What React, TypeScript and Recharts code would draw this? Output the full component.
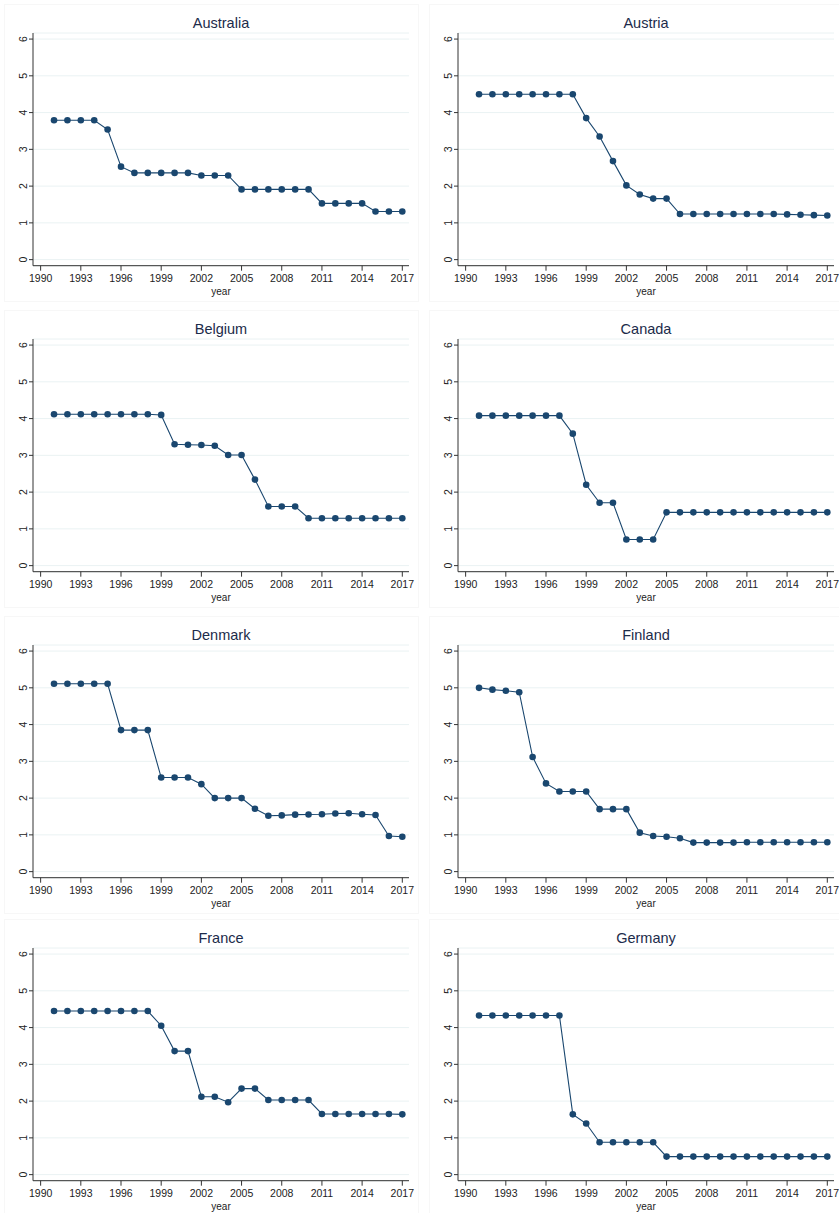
import { LineChart, Line, XAxis, YAxis, CartesianGrid } from "recharts";

const years = [
  1991, 1992, 1993, 1994, 1995, 1996, 1997, 1998, 1999, 2000, 2001, 2002, 2003, 2004,
  2005, 2006, 2007, 2008, 2009, 2010, 2011, 2012, 2013, 2014, 2015, 2016, 2017,
];

const australia = [
  3.79, 3.79, 3.79, 3.79, 3.54, 2.53, 2.36, 2.36, 2.36, 2.36, 2.36, 2.29, 2.29, 2.29,
  1.91, 1.91, 1.91, 1.91, 1.91, 1.91, 1.53, 1.53, 1.53, 1.53, 1.31, 1.31, 1.31,
];
const austria = [
  4.5, 4.5, 4.5, 4.5, 4.5, 4.5, 4.5, 4.5, 3.85, 3.35, 2.68, 2.02, 1.77, 1.66,
  1.66, 1.24, 1.24, 1.24, 1.24, 1.24, 1.24, 1.24, 1.24, 1.23, 1.22, 1.21, 1.2,
];
const belgium = [
  4.12, 4.12, 4.12, 4.12, 4.12, 4.12, 4.12, 4.12, 4.1, 3.3, 3.29, 3.28, 3.26, 3.01,
  3.01, 2.34, 1.61, 1.61, 1.61, 1.29, 1.29, 1.29, 1.29, 1.29, 1.29, 1.29, 1.29,
];
const canada = [
  4.08, 4.08, 4.08, 4.08, 4.08, 4.08, 4.08, 3.59, 2.2, 1.71, 1.71, 0.71, 0.71, 0.71,
  1.45, 1.45, 1.45, 1.45, 1.45, 1.45, 1.45, 1.45, 1.45, 1.45, 1.45, 1.45, 1.45,
];
const denmark = [
  5.11, 5.11, 5.11, 5.11, 5.11, 3.85, 3.85, 3.85, 2.56, 2.56, 2.56, 2.38, 2.0, 2.0,
  2.0, 1.71, 1.52, 1.53, 1.55, 1.555, 1.56, 1.58, 1.59, 1.56, 1.54, 0.97, 0.95,
];
const finland = [
  5.0, 4.95, 4.92, 4.88, 3.12, 2.4, 2.18, 2.18, 2.18, 1.7, 1.7, 1.7, 1.06, 0.97,
  0.95, 0.91, 0.79, 0.79, 0.79, 0.79, 0.8, 0.8, 0.8, 0.8, 0.8, 0.8, 0.8,
];
const france = [
  4.45, 4.45, 4.45, 4.45, 4.45, 4.45, 4.45, 4.45, 4.05, 3.36, 3.36, 2.12, 2.12, 1.97,
  2.34, 2.34, 2.03, 2.03, 2.03, 2.03, 1.65, 1.65, 1.65, 1.65, 1.65, 1.65, 1.64,
];
const germany = [
  4.33, 4.33, 4.33, 4.33, 4.33, 4.33, 4.33, 1.64, 1.39, 0.88, 0.88, 0.88, 0.88, 0.88,
  0.49, 0.49, 0.49, 0.49, 0.49, 0.49, 0.49, 0.49, 0.49, 0.49, 0.49, 0.49, 0.49,
];

const countries = ["Australia", "Austria", "Belgium", "Canada", "Denmark", "Finland", "France", "Germany"];
const seriesList = [australia, austria, belgium, canada, denmark, finland, france, germany];

const xTicks = [1990, 1993, 1996, 1999, 2002, 2005, 2008, 2011, 2014, 2017];
const yTicks = [0, 1, 2, 3, 4, 5, 6];

const NAVY = "#1a476f";
const FONT = "'Liberation Sans', Arial, sans-serif";
const rowTops = [0, 306, 612, 915];
const colLefts = [0, 425];

function YTick({ x, y, payload }: any) {
  return (
    <text
      x={x}
      y={y}
      transform={`rotate(-90 ${x} ${y})`}
      textAnchor="middle"
      dominantBaseline="central"
      fontSize={10.5}
      fill="#222"
      fontFamily={FONT}
    >
      {payload.value}
    </text>
  );
}

function Panel({ title, values, left, top }: { title: string; values: number[]; left: number; top: number }) {
  const data = years.map((year, i) => ({ year, value: values[i] }));
  return (
    <div style={{ position: "absolute", left, top, width: 419, height: 300 }}>
      <div
        style={{
          position: "absolute",
          left: 4,
          top: 4,
          width: 413,
          height: 296,
          border: "1px solid #f7f7f7",
        }}
      />
      <div
        style={{
          position: "absolute",
          left: 33,
          width: 376,
          top: 14,
          textAlign: "center",
          fontFamily: FONT,
          fontSize: 14.5,
          color: "#1c2b4a",
          lineHeight: "18px",
        }}
      >
        {title}
      </div>
      <LineChart width={419} height={300} data={data} margin={{ top: 33, right: 10, left: 0, bottom: 0 }}>
        <CartesianGrid vertical={false} stroke="#eaf2f3" />
        <XAxis
          dataKey="year"
          type="number"
          domain={[1989.43, 2017.5]}
          ticks={xTicks}
          interval={0}
          allowDataOverflow
          height={34.3}
          tickSize={5}
          tickMargin={4}
          stroke="#333"
          tick={{ fontSize: 10.5, fill: "#222", fontFamily: FONT }}
          label={{ value: "year", position: "insideBottom", offset: 5, fontSize: 10, fill: "#222", fontFamily: FONT }}
        />
        <YAxis
          type="number"
          domain={[-0.165, 6.165]}
          ticks={yTicks}
          interval={0}
          allowDataOverflow
          width={33}
          tickSize={4}
          tickMargin={6}
          stroke="#333"
          tick={<YTick />}
        />
        <Line
          type="linear"
          dataKey="value"
          stroke={NAVY}
          strokeWidth={1.1}
          dot={{ r: 3.3, fill: NAVY, stroke: NAVY, strokeWidth: 0 }}
          activeDot={false}
          isAnimationActive={false}
        />
      </LineChart>
    </div>
  );
}

export default function App() {
  return (
    <div
      style={{
        position: "absolute",
        left: 0,
        top: 0,
        width: 839,
        height: 1213,
        overflow: "hidden",
        background: "#fff",
      }}
    >
      {countries.map((name, i) => (
        <Panel
          key={name}
          title={name}
          values={seriesList[i]}
          left={colLefts[i % 2]}
          top={rowTops[Math.floor(i / 2)]}
        />
      ))}
    </div>
  );
}
